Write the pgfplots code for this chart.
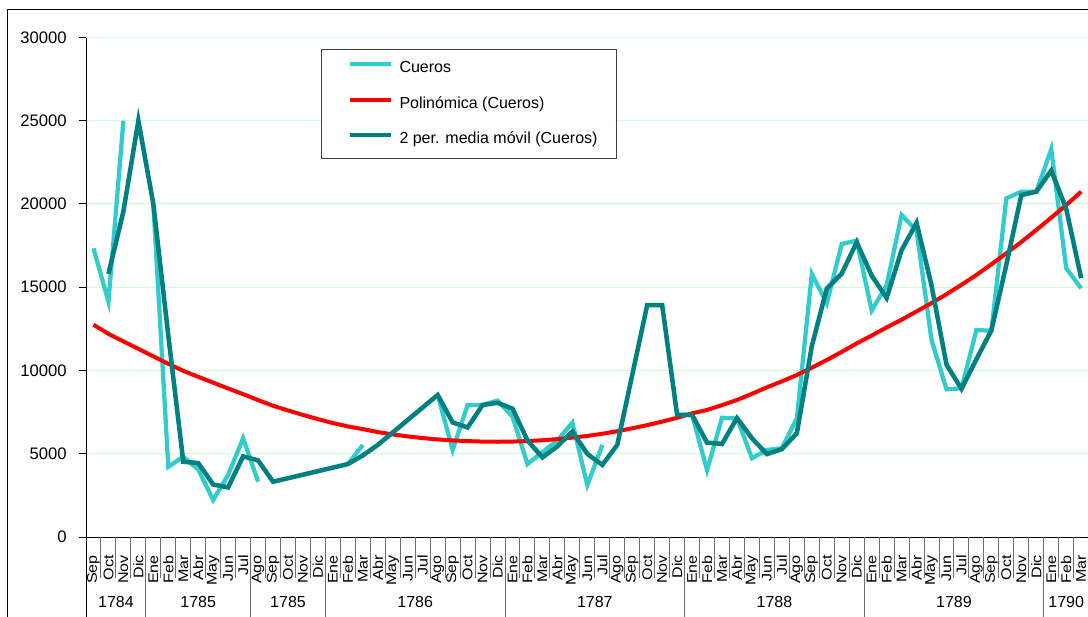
\documentclass[border=0pt]{standalone}
\usepackage{pgfplots}
\usepackage{pgfplotstable}
\usepackage{graphicx}
\usepackage{fontspec}
\setmainfont{Liberation Sans}
\pgfplotsset{compat=1.18}

\definecolor{cueros}{RGB}{51,204,204}
\definecolor{mediamovil}{RGB}{0,128,128}
\definecolor{tendencia}{RGB}{255,0,0}
\definecolor{rejilla}{RGB}{204,255,204}
\definecolor{rejillatop}{RGB}{204,255,255}
\definecolor{separador}{RGB}{110,110,110}

% month labels, slightly stretched along the text
\newcommand\m[1]{\scalebox{1.15}[1]{#1}}

% i = month index from Sep 1784; cue = hides exported (nan = no record);
% pol = polynomial trend; mm = 2-period moving average
\pgfplotstableread{
i  cue   pol   mm
0  17340 12750 nan
1  14130 12200 15800
2  25000 11750 19560
3  nan   11300 25000
4  20000 10850 20000
5  4220  10400 12100
6  4820  9980  4520
7  4050  9620  4440
8  2220  9270  3150
9  3740  8920  2980
10 5930  8580  4840
11 3320  8220  4600
12 nan   7880  3320
13 nan   7600  nan
14 nan   7330  nan
15 nan   7080  nan
16 nan   6840  nan
17 4380  6640  4380
18 5530  6480  4900
19 nan   6300  5530
20 nan   6160  nan
21 nan   6040  nan
22 nan   5940  nan
23 8530  5860  8530
24 5230  5800  6880
25 7930  5760  6580
26 7930  5730  7930
27 8190  5720  8060
28 7230  5730  7710
29 4380  5760  5800
30 5100  5810  4780
31 5800  5880  5450
32 6870  5970  6330
33 3120  6070  4990
34 5530  6200  4330
35 nan   6350  5530
36 nan   6530  nan
37 13930 6720  13930
38 nan   6930  13930
39 7330  7160  7330
40 7330  7430  7330
41 4020  7630  5670
42 7160  7920  5590
43 7130  8230  7140
44 4730  8600  5930
45 5230  8990  4980
46 5330  9350  5280
47 7130  9730  6230
48 15800 10170 11460
49 14040 10630 14920
50 17600 11120 15820
51 17800 11630 17700
52 13600 12100 15700
53 15130 12590 14360
54 19340 13050 17230
55 18400 13550 18870
56 11830 14050 15110
57 8870  14580 10350
58 8930  15150 8900
59 12430 15740 10680
60 12390 16380 12410
61 20340 17040 16360
62 20740 17720 20540
63 20740 18440 20740
64 23290 19180 22010
65 16140 19940 19710
66 14940 20740 15540
}\datos

\begin{document}
\begin{tikzpicture}
\useasboundingbox (0,0) rectangle (816pt,462.75pt);
\clip (0,0) rectangle (816pt,462.75pt);
% outer frame of the chart area
\draw[black, line width=0.75pt] (5.25pt,-5pt) -- (5.25pt,455.25pt) -- (830pt,455.25pt);
\begin{axis}[
  at={(64.5pt,60pt)}, anchor=south west,
  scale only axis, width=752pt, height=374.625pt,
  xmin=-0.5, xmax=66.5, ymin=0, ymax=30000,
  axis lines*=left,
  axis line style={black, line width=0.75pt},
  clip=false,
  ytick={0,5000,...,30000},
  scaled y ticks=false,
  ymajorgrids,
  major grid style={color=rejilla, line width=0.75pt},
  tick align=outside,
  major tick length=5.25pt,
  ytick style={black, line width=0.75pt},
  /pgf/number format/assume math mode=true,
  /pgf/number format/set thousands separator={},
  yticklabel style={font=\fontsize{12.5}{14}\selectfont, inner sep=0pt},
  yticklabel shift=9pt,
  xtick={0,...,66},
  xtick style={draw=none},
  xticklabels={\m{Sep},\m{Oct},\m{Nov},\m{Dic},
    \m{Ene},\m{Feb},\m{Mar},\m{Abr},\m{May},\m{Jun},\m{Jul},
    \m{Ago},\m{Sep},\m{Oct},\m{Nov},\m{Dic},
    \m{Ene},\m{Feb},\m{Mar},\m{Abr},\m{May},\m{Jun},\m{Jul},\m{Ago},\m{Sep},\m{Oct},\m{Nov},\m{Dic},
    \m{Ene},\m{Feb},\m{Mar},\m{Abr},\m{May},\m{Jun},\m{Jul},\m{Ago},\m{Sep},\m{Oct},\m{Nov},\m{Dic},
    \m{Ene},\m{Feb},\m{Mar},\m{Abr},\m{May},\m{Jun},\m{Jul},\m{Ago},\m{Sep},\m{Oct},\m{Nov},\m{Dic},
    \m{Ene},\m{Feb},\m{Mar},\m{Abr},\m{May},\m{Jun},\m{Jul},\m{Ago},\m{Sep},\m{Oct},\m{Nov},\m{Dic},
    \m{Ene},\m{Feb},\m{Mar}},
  xticklabel style={rotate=90, anchor=east, inner sep=0pt,
    font=\fontsize{10.5}{12}\selectfont},
  xticklabel shift=8.25pt,
  legend cell align=left,
  legend style={at={(0.2345,0.9764)}, anchor=north west,
    draw=black!75, line width=0.9pt, fill=white,
    font=\fontsize{12}{14}\selectfont,
    inner xsep=14.3pt, inner ysep=8pt,
    row sep=14.6pt, column sep=4.5pt,
    nodes={inner sep=0pt, text height=9pt, text depth=3pt}},
  legend image code/.code={%
    \path (0pt,0pt) (36.15pt,0pt);
    \draw[#1] (5.4pt,3.3pt) -- (36.15pt,3.3pt);},
]
\addplot[cueros, line width=3.2pt, unbounded coords=jump] table[x=i, y=cue]{\datos};
\addlegendentry{Cueros}
\addplot[tendencia, line width=3pt] table[x=i, y=pol]{\datos};
\addlegendentry{Polinómica (Cueros)}
\addplot[mediamovil, line width=3.4pt, unbounded coords=discard] table[x=i, y=mm]{\datos};
\addlegendentry{2 per. media móvil (Cueros)}

% top edge of the plot area
\draw[rejillatop, line width=0.75pt] (rel axis cs:0,1) -- (rel axis cs:1,1);

% month separators below the axis
\pgfplotsinvokeforeach{0.5,1.5,...,65.5}{
  \draw[separador, line width=0.75pt] (axis cs:#1,0) -- ++(0pt,-30.75pt);
}
% year separators
\pgfplotsinvokeforeach{3.5,10.5,15.5,27.5,39.5,51.5,63.5}{
  \draw[separador, line width=0.75pt] (axis cs:#1,0) -- ++(0pt,-64pt);
}
\draw[black, line width=0.75pt] (axis cs:-0.5,0) -- ++(0pt,-64pt);

% year labels
\node[font=\fontsize{12}{14}\selectfont, yshift=-48.75pt] at (axis cs:1.5,0) {1784};
\node[font=\fontsize{12}{14}\selectfont, yshift=-48.75pt] at (axis cs:7,0) {1785};
\node[font=\fontsize{12}{14}\selectfont, yshift=-48.75pt] at (axis cs:13,0) {1785};
\node[font=\fontsize{12}{14}\selectfont, yshift=-48.75pt] at (axis cs:21.5,0) {1786};
\node[font=\fontsize{12}{14}\selectfont, yshift=-48.75pt] at (axis cs:33.5,0) {1787};
\node[font=\fontsize{12}{14}\selectfont, yshift=-48.75pt] at (axis cs:45.5,0) {1788};
\node[font=\fontsize{12}{14}\selectfont, yshift=-48.75pt] at (axis cs:57.5,0) {1789};
\node[font=\fontsize{12}{14}\selectfont, yshift=-48.75pt] at (axis cs:65,0) {1790};
\end{axis}
\end{tikzpicture}
\end{document}
